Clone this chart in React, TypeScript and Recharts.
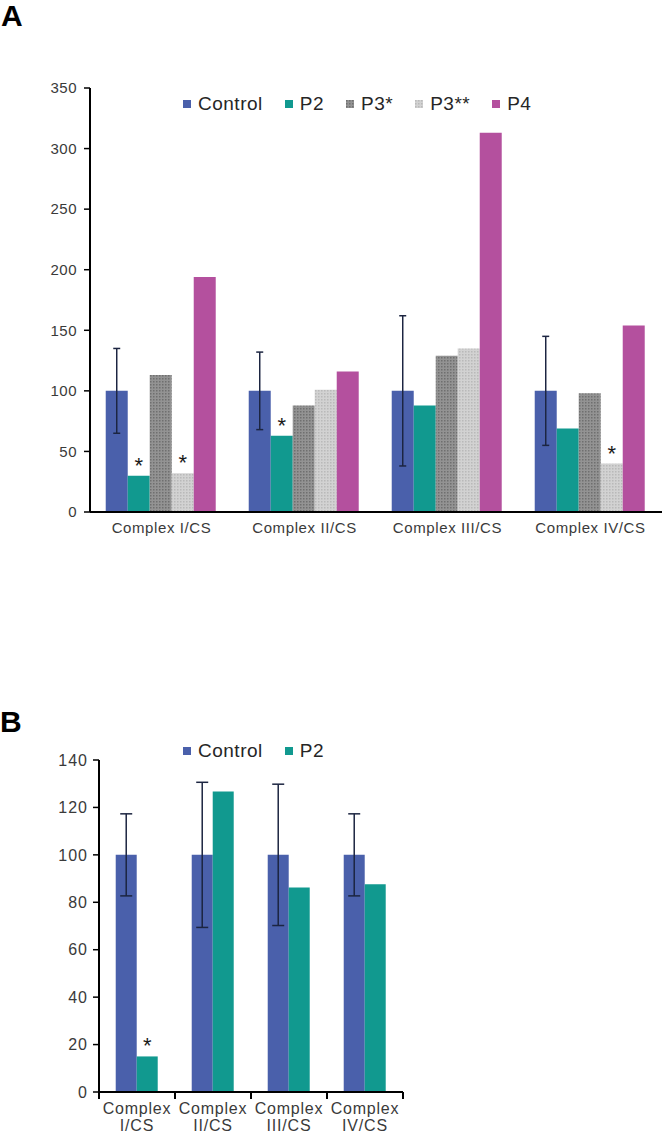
import React from "react";
import {
  BarChart,
  Bar,
  XAxis,
  YAxis,
  Legend,
  ErrorBar,
  LabelList,
} from "recharts";

// Panel A
const categoriesA = ["Complex I/CS", "Complex II/CS", "Complex III/CS", "Complex IV/CS"];
const controlA = [100, 100, 100, 100];
const controlErrA = [35, 32, 62, 45];
const p2A = [30, 63, 88, 69];
const p3sA = [113, 88, 129, 98];
const p3ssA = [32, 101, 135, 40];
const p4A = [194, 116, 313, 154];
const p2SigA = ["*", "*", "", ""];
const p3ssSigA = ["*", "", "", "*"];
const ticksA = [0, 50, 100, 150, 200, 250, 300, 350];

// Panel B
const categoriesB = ["Complex I/CS", "Complex II/CS", "Complex III/CS", "Complex IV/CS"];
const controlB = [100, 100, 100, 100];
const controlErrB = [17.3, 30.6, 29.8, 17.3];
const p2B = [15, 126.7, 86.2, 87.6];
const p2SigB = ["*", "", "", ""];
const ticksB = [0, 20, 40, 60, 80, 100, 120, 140];

const COLORS = {
  control: "#4a60ab",
  p2: "#11998f",
  p4: "#b4509e",
  p3s: "url(#p3sPattern)",
  p3ss: "url(#p3ssPattern)",
};

const FONT = '"Liberation Sans", Arial, sans-serif';
const TICK_FILL = "#3a3a3a";

const renderStar = (props: any) => {
  const { x, y, width, value } = props;
  if (!value) return null;
  return (
    <text x={x + width / 2} y={y - 3} textAnchor="middle" fontSize={22} fill="#1a1a1a">
      {value}
    </text>
  );
};

const renderLegend = (props: any) => {
  const { payload } = props;
  return (
    <div style={{ display: "flex", alignItems: "center", fontSize: 19, letterSpacing: 0.5, color: "#262626", lineHeight: "20px" }}>
      {payload.map((entry: any) => (
        <span key={entry.value} style={{ display: "flex", alignItems: "center", marginRight: 22 }}>
          <svg width={8} height={8} style={{ marginRight: 7 }}>
            <rect width={8} height={8} fill={entry.color} />
          </svg>
          {entry.value}
        </span>
      ))}
    </div>
  );
};

const TickA = (props: any) => {
  const { x, y, payload } = props;
  return (
    <text x={x} y={y + 21} textAnchor="middle" fontSize={15} fill={TICK_FILL} style={{ letterSpacing: 0.6 }}>
      {payload.value}
    </text>
  );
};

const TickB = (props: any) => {
  const { x, y, payload, index, visibleTicksCount } = props;
  const half = payload.offset || 0;
  const [l1, l2] = String(payload.value).split(" ");
  return (
    <g>
      <line x1={x - half} y1={y} x2={x - half} y2={y + 7} stroke="#000" strokeWidth={2} />
      {index === visibleTicksCount - 1 && (
        <line x1={x + half} y1={y} x2={x + half} y2={y + 7} stroke="#000" strokeWidth={2} />
      )}
      <text x={x} y={y + 22} textAnchor="middle" fontSize={16} fill={TICK_FILL} style={{ letterSpacing: 0.8 }}>
        {l1}
      </text>
      <text x={x} y={y + 39} textAnchor="middle" fontSize={16} fill={TICK_FILL} style={{ letterSpacing: 0.8 }}>
        {l2}
      </text>
    </g>
  );
};

export default function App() {
  const dataA = categoriesA.map((name, i) => ({
    name,
    control: controlA[i],
    controlErr: controlErrA[i],
    p2: p2A[i],
    p2Sig: p2SigA[i],
    p3s: p3sA[i],
    p3ss: p3ssA[i],
    p3ssSig: p3ssSigA[i],
    p4: p4A[i],
  }));
  const dataB = categoriesB.map((name, i) => ({
    name,
    control: controlB[i],
    controlErr: controlErrB[i],
    p2: p2B[i],
    p2Sig: p2SigB[i],
  }));

  return (
    <div style={{ position: "relative", width: 664, height: 1134, fontFamily: FONT, background: "#fff", overflow: "hidden" }}>
      <style>{"body{margin:0}"}</style>
      <div style={{ position: "absolute", left: 1, top: 1, fontSize: 30, lineHeight: "30px", fontWeight: 700 }}>A</div>
      <div style={{ position: "absolute", left: 0, top: 707, fontSize: 30, lineHeight: "30px", fontWeight: 700 }}>B</div>

      <div style={{ position: "absolute", left: 0, top: 0 }}>
        <BarChart
          width={664}
          height={560}
          data={dataA}
          margin={{ top: 88, right: 2, bottom: 18, left: 0 }}
          barCategoryGap="11%"
          barGap={0}
        >
          <defs>
            <pattern id="p3sPattern" width="3" height="3" patternUnits="userSpaceOnUse">
              <rect width="3" height="3" fill="#939393" />
              <rect width="1.5" height="1.5" fill="#6f6f6f" />
            </pattern>
            <pattern id="p3ssPattern" width="3" height="3" patternUnits="userSpaceOnUse">
              <rect width="3" height="3" fill="#d2d2d2" />
              <rect width="1.5" height="1.5" fill="#b9b9b9" />
            </pattern>
          </defs>
          <XAxis
            dataKey="name"
            height={30}
            tickLine={false}
            tickSize={0}
            tickMargin={0}
            axisLine={{ stroke: "#000", strokeWidth: 2 }}
            tick={<TickA />}
            interval={0}
          />
          <YAxis
            width={90}
            domain={[0, 350]}
            ticks={ticksA}
            interval={0}
            tickSize={6}
            tickMargin={7}
            axisLine={{ stroke: "#000", strokeWidth: 2 }}
            tickLine={{ stroke: "#000", strokeWidth: 1.5 }}
            tick={{ fontSize: 15, fill: TICK_FILL, letterSpacing: 0.5 }}
          />
          <Legend
            verticalAlign="middle"
            align="center"
            content={renderLegend}
            wrapperStyle={{ top: 94, left: 183, width: "auto" }}
          />
          <Bar dataKey="control" name="Control" fill={COLORS.control} isAnimationActive={false}>
            <ErrorBar dataKey="controlErr" width={3.5} stroke="#1c2541" strokeWidth={1.5} direction="y" isAnimationActive={false} />
          </Bar>
          <Bar dataKey="p2" name="P2" fill={COLORS.p2} isAnimationActive={false}>
            <LabelList dataKey="p2Sig" content={renderStar} />
          </Bar>
          <Bar dataKey="p3s" name="P3*" fill={COLORS.p3s} isAnimationActive={false} />
          <Bar dataKey="p3ss" name="P3**" fill={COLORS.p3ss} isAnimationActive={false}>
            <LabelList dataKey="p3ssSig" content={renderStar} />
          </Bar>
          <Bar dataKey="p4" name="P4" fill={COLORS.p4} isAnimationActive={false} />
        </BarChart>
      </div>

      <div style={{ position: "absolute", left: 0, top: 700 }}>
        <BarChart
          width={405}
          height={434}
          data={dataB}
          margin={{ top: 60, right: 2, bottom: 0, left: 0 }}
          barCategoryGap="22%"
          barGap={0}
        >
          <XAxis
            dataKey="name"
            height={42}
            tickLine={false}
            tickSize={0}
            tickMargin={0}
            axisLine={{ stroke: "#000", strokeWidth: 2 }}
            tick={<TickB />}
            interval={0}
          />
          <YAxis
            width={99}
            domain={[0, 140]}
            ticks={ticksB}
            interval={0}
            tickSize={6}
            tickMargin={5}
            axisLine={{ stroke: "#000", strokeWidth: 2 }}
            tickLine={{ stroke: "#000", strokeWidth: 1.5 }}
            tick={{ fontSize: 16, fill: TICK_FILL, letterSpacing: 1 }}
          />
          <Legend
            verticalAlign="middle"
            align="center"
            content={renderLegend}
            wrapperStyle={{ top: 41, left: 183, width: "auto" }}
          />
          <Bar dataKey="control" name="Control" fill={COLORS.control} isAnimationActive={false}>
            <ErrorBar dataKey="controlErr" width={6} stroke="#1c2541" strokeWidth={1.5} direction="y" isAnimationActive={false} />
          </Bar>
          <Bar dataKey="p2" name="P2" fill={COLORS.p2} isAnimationActive={false}>
            <LabelList dataKey="p2Sig" content={renderStar} />
          </Bar>
        </BarChart>
      </div>
    </div>
  );
}
